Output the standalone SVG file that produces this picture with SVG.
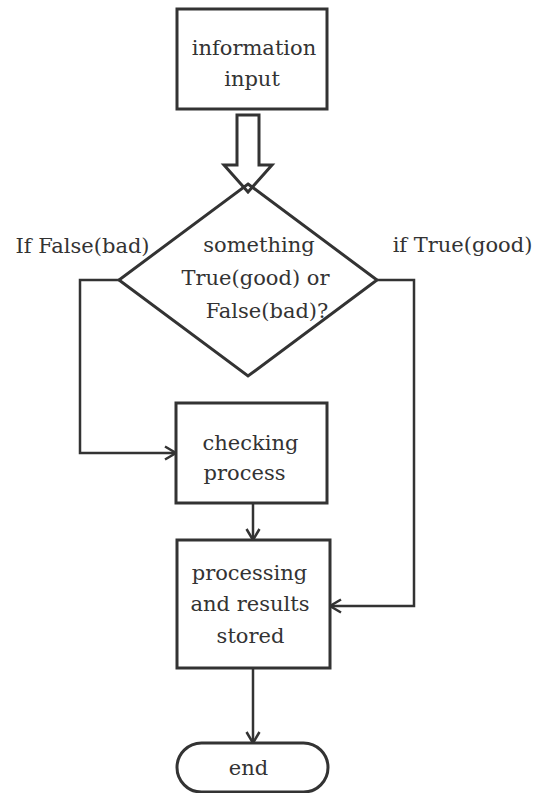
<svg xmlns="http://www.w3.org/2000/svg" width="535" height="793" viewBox="0 0 535 793">
  <style>
    .box { fill: #ffffff; stroke: #333333; stroke-width: 3; }
    .dia { fill: none; stroke: #333333; stroke-width: 3; }
    .conn { fill: none; stroke: #333333; stroke-width: 2.5; }
    .t { font-family: "DejaVu Serif", "Liberation Serif", serif; font-size: 21px; fill: #333333; text-anchor: middle; }
    .ts { text-anchor: start; }
  </style>
  <defs>
    <marker id="open" markerUnits="userSpaceOnUse" markerWidth="16" markerHeight="16" viewBox="0 0 16 16" refX="13" refY="8" orient="auto">
      <path d="M2,1.5 L13,8 L2,14.5" fill="none" stroke="#333333" stroke-width="2.5"/>
    </marker>
  </defs>
  <rect x="0" y="0" width="535" height="793" fill="#ffffff"/>

  <g id="connectors">
    <polygon class="box" points="237,115 259,115 259,165 272,165 248,192 224,165 237,165"/>
    <polyline class="conn" points="119,280 80,280 80,453 176,453" marker-end="url(#open)"/>
    <polyline class="conn" points="377,280 414,280 414,606 330,606" marker-end="url(#open)"/>
    <line class="conn" x1="253" y1="503" x2="253" y2="540" marker-end="url(#open)"/>
    <line class="conn" x1="253" y1="668" x2="253" y2="743" marker-end="url(#open)"/>
  </g>

  <g id="info">
    <rect class="box" x="177" y="9" width="150" height="100"/>
    <text class="t" x="254" y="55">information</text>
    <text class="t" x="252" y="86">input</text>
  </g>

  <g id="decision">
    <polygon class="dia" points="248,184 377,280 248,376 119,280"/>
    <text class="t" x="259" y="252">something</text>
    <text class="t" x="255.5" y="285">True(good) or</text>
    <text class="t" x="267" y="318">False(bad)?</text>
  </g>

  <g id="label-false">
    <text class="t" x="82.5" y="253">If False(bad)</text>
  </g>
  <g id="label-true">
    <text class="t" x="462.5" y="252">if True(good)</text>
  </g>

  <g id="checking">
    <rect class="box" x="176" y="403" width="151" height="100"/>
    <text class="t" x="250.5" y="450">checking</text>
    <text class="t" x="244.5" y="480">process</text>
  </g>

  <g id="processing">
    <rect class="box" x="177" y="540" width="153" height="128"/>
    <text class="t" x="249.5" y="580">processing</text>
    <text class="t" x="250" y="611">and results</text>
    <text class="t" x="250.5" y="643">stored</text>
  </g>

  <g id="end">
    <rect class="box" x="177" y="743" width="151" height="49" rx="24.5" ry="24.5"/>
    <text class="t" x="248.5" y="775">end</text>
  </g>
</svg>
